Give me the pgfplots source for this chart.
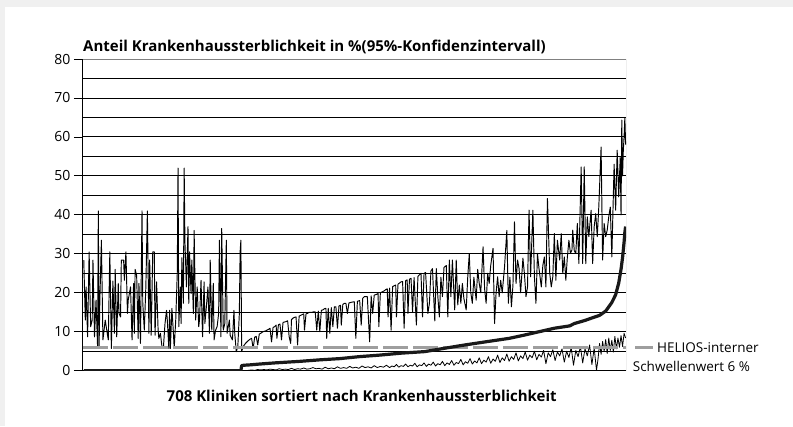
\documentclass[border=0pt]{standalone}
\usepackage{fontspec}
\setmainfont{Open Sans}
\usepackage{pgfplots}
\usepackage{pgfplotstable}
\pgfplotsset{compat=1.18}

% upper bound of the 95% confidence interval
\pgfplotstableread{
i v
1 28.4
3 13.0
4 21.5
6 8.7
8 30.5
10 11.3
12 13.0
13 28.4
15 8.7
17 18.1
19 6.2
20 41.0
21 6.2
22 18.1
24 33.5
26 7.9
29 13.0
31 10.4
33 7.9
35 30.5
37 5.7
39 23.0
41 9.6
42 26.0
44 8.7
46 22.4
47 14.7
49 13.8
50 28.4
53 28.4
54 23.2
56 30.5
58 14.7
59 18.1
62 21.5
64 7.9
66 22.4
67 9.6
68 26.0
70 24.5
72 8.3
73 22.4
75 7.0
77 41.0
78 17.3
80 10.4
82 21.5
84 41.0
86 9.6
87 28.4
89 9.1
91 30.5
93 30.5
94 9.1
96 22.8
98 10.4
99 8.3
101 9.6
103 6.2
105 6.2
107 12.1
109 15.5
110 13.0
112 5.7
113 15.5
114 5.7
116 16.0
118 9.6
119 5.7
121 13.0
123 25.0
124 52.0
125 11.3
127 21.5
128 12.1
129 29.0
131 17.3
132 52.0
133 33.0
135 21.5
137 37.0
138 17.3
139 30.5
141 19.8
142 28.4
144 14.7
145 36.0
147 13.0
149 21.5
151 11.3
152 13.0
154 23.2
156 8.7
158 22.8
159 12.1
161 16.4
163 21.5
165 9.6
166 28.4
168 10.4
170 22.4
171 7.9
173 10.4
175 11.3
177 14.7
178 33.5
180 8.7
181 36.5
183 10.4
185 12.1
187 33.5
188 9.6
191 13.0
192 9.1
195 7.9
197 15.5
198 9.6
200 4.9
202 6.2
204 14.7
205 30.5
206 33.5
207 4.9
209 6.2
212 7.0
215 7.6
218 8.1
220 8.3
222 5.7
224 8.6
226 8.8
228 6.6
230 9.4
232 9.6
234 9.9
236 10.1
238 10.2
240 10.4
242 10.6
244 10.9
246 7.4
248 11.1
250 11.3
252 11.7
253 8.3
255 11.8
257 12.0
259 7.9
261 12.4
263 12.5
265 12.6
267 12.8
269 8.7
271 7.0
272 13.1
274 13.5
276 13.7
278 13.8
280 6.6
282 14.0
284 14.2
286 14.4
288 14.6
289 10.4
291 14.6
293 14.7
295 15.0
297 15.0
299 15.0
301 15.1
303 15.1
305 10.4
307 15.3
309 10.0
311 15.5
313 15.6
315 15.9
317 16.0
318 8.3
320 16.0
322 9.6
324 16.2
326 11.3
328 16.4
330 16.4
332 10.9
334 16.6
336 16.8
337 11.7
339 17.0
341 17.3
343 17.3
345 14.7
347 17.4
349 17.5
351 17.6
354 17.7
356 8.3
358 17.8
361 18.0
363 11.7
365 18.6
367 19.0
369 19.0
371 19.0
374 7.4
376 19.2
378 14.7
380 19.4
383 19.6
385 19.8
386 11.3
388 20.0
390 20.2
393 20.5
395 20.8
397 21.0
398 13.8
400 21.2
402 10.4
404 21.6
406 21.8
408 22.0
409 13.8
411 22.2
413 22.5
415 22.8
417 22.9
419 10.9
421 23.1
423 23.3
424 14.7
426 23.5
428 23.7
430 15.1
432 23.9
435 11.7
437 24.2
439 24.6
441 25.0
443 13.8
445 25.0
447 25.2
450 14.7
452 17.3
454 25.6
456 26.2
459 12.8
461 26.2
463 19.0
465 13.8
467 24.0
469 19.0
471 26.5
474 27.0
476 13.8
478 28.4
480 19.0
482 28.4
485 15.6
487 28.4
489 16.9
491 22.0
493 17.3
495 22.4
497 18.5
500 15.6
502 24.0
504 30.0
506 20.0
508 17.3
510 24.0
513 18.1
515 26.0
517 22.4
519 20.0
522 31.8
524 21.0
526 17.3
528 25.0
530 22.4
532 27.0
535 31.4
537 12.1
539 20.0
541 24.1
543 19.0
545 23.2
547 20.0
550 26.6
553 36.0
555 17.3
557 24.0
559 16.4
561 22.0
563 38.2
565 22.4
567 28.4
569 26.2
571 20.0
574 28.9
576 24.8
578 19.0
580 21.5
582 41.2
584 24.1
587 41.2
589 24.1
591 17.3
593 30.1
595 26.2
598 21.5
600 27.0
602 29.2
604 21.5
606 44.2
608 31.8
609 25.0
611 21.5
613 24.1
615 35.2
617 23.2
619 33.5
622 28.4
624 35.2
626 25.0
628 29.2
630 23.2
632 29.2
634 33.5
636 30.1
638 31.0
639 36.1
641 30.8
643 30.1
645 37.8
647 27.5
650 52.3
652 27.5
654 52.3
656 27.5
658 39.5
660 34.4
663 41.2
665 27.5
667 37.0
669 40.3
671 34.4
673 42.0
676 57.4
678 28.4
680 37.8
682 34.4
684 36.1
686 39.5
688 42.0
690 29.2
693 53.0
695 41.2
697 56.6
699 44.6
701 54.9
702 40.0
703 64.3
704 50.0
705 56.6
706 60.0
707 65.0
708 58.0
}\uptab

% lower bound of the 95% confidence interval
\pgfplotstableread{
i v
1 0
212 0
216 0.1
220 0.2
224 0.1
228 0.3
232 0.2
236 0.3
240 0.2
244 0.4
248 0.3
252 0.2
256 0.5
260 0.3
264 0.4
268 0.3
272 0.6
276 0.3
280 0.5
284 0.4
288 0.7
292 0.4
296 0.5
300 0.8
304 0.5
308 0.6
312 0.4
316 0.9
320 0.5
324 0.7
328 0.5
332 1.0
336 0.6
340 0.8
344 0.6
348 1.1
352 0.7
356 0.9
360 0.6
364 1.2
368 0.8
372 1.0
376 0.7
380 1.3
384 0.8
388 1.1
392 0.9
396 1.4
400 0.8
403 1.2
406 1.0
409 1.6
412 0.9
415 1.3
418 1.1
421 1.7
424 1.0
427 1.4
430 1.2
433 1.9
436 1.0
439 1.5
442 1.3
445 2.0
448 1.1
451 1.7
454 1.4
457 2.2
460 1.2
463 1.8
466 1.5
469 2.4
472 1.3
475 2.0
478 1.6
481 2.6
484 1.4
487 2.1
490 1.8
493 2.9
496 1.5
499 2.3
502 1.9
505 3.1
508 1.7
511 2.5
514 2.0
517 3.3
520 1.8
523 2.7
526 2.2
529 3.6
532 1.9
535 3.0
538 2.4
541 4.0
544 2.1
547 3.3
550 2.6
553 4.3
556 2.4
559 3.6
562 2.9
565 4.6
568 2.5
571 3.8
574 3.1
577 4.8
580 2.7
583 4.0
586 3.3
589 5.0
592 2.8
595 4.2
598 3.5
601 5.2
604 1.8
607 4.6
610 3.6
613 5.4
616 2.6
619 4.8
622 3.8
625 5.6
628 2.2
631 5.0
634 3.4
637 6.0
640 1.4
643 5.2
646 3.6
649 6.2
652 2.0
655 5.6
658 3.8
661 6.6
664 1.6
667 5.8
670 0.1
672 3.0
674 7.0
676 4.2
678 7.5
680 5.0
682 8.0
684 4.4
686 8.4
688 5.2
690 7.8
692 4.8
694 8.8
696 5.6
698 8.4
700 6.0
702 9.0
704 6.2
706 9.6
708 8.4
}\lowtab

% point estimate (hospital mortality, %)
\pgfplotstableread{
i v
1 0
206 0
207 1.3
210 1.4
218 1.5
230 1.7
250 2.0
283 2.4
310 2.8
335 3.1
360 3.6
387 4.0
415 4.5
446 4.9
470 5.7
498 6.6
525 7.4
556 8.3
575 9.1
595 10.0
615 10.9
635 11.5
641 12.1
655 12.9
665 13.6
674 14.2
682 15.3
690 17.5
695 19.5
699 22.5
702 26.0
704 29.0
706 33.0
707 35.5
708 37.0
}\esttab

\begin{document}
\begin{tikzpicture}[x=1pt,y=1pt]
\fill[black!6] (0,0) rectangle (793,426);
\path[use as bounding box] (0,0) rectangle (793,426);
\fill[white] (5,0) rectangle (793,419);
\begin{axis}[
  at={(83pt,55.3pt)}, anchor=south west,
  scale only axis, width=543pt, height=311.7pt,
  xmin=0, xmax=708.5, ymin=0, ymax=80,
  axis x line*=bottom, axis y line*=left,
  axis line style={-, black, line width=1pt},
  ytick={0,10,...,80}, minor ytick={5,15,...,75},
  ymajorgrids, yminorgrids,
  major grid style={black, line width=0.9pt},
  minor grid style={black, line width=1.2pt},
  xtick=\empty,
  tick align=outside, major tick length=9pt, minor tick length=0pt,
  ytick style={black, line width=0.8pt},
  yticklabel style={font=\fontsize{14}{14}\selectfont, /pgf/number format/assume math mode=true},
]
\addplot[black, line width=0.95pt, line join=round] table[x=i, y=v] {\uptab};
\addplot[black, line width=0.8pt, line join=round] table[x=i, y=v] {\lowtab};
\addplot[black!38, line width=2.5pt, dash pattern=on 25pt off 5pt] coordinates {(0,6) (708.5,6)};
\addplot[black!90, line width=3.2pt, line join=round] table[x=i, y=v] {\esttab};
\draw[black!50, line width=1pt] (rel axis cs:0,1) -- (rel axis cs:1,1) -- (rel axis cs:1,0);
\end{axis}
\node[anchor=base west, inner sep=0pt, font=\bfseries\fontsize{15}{16}\selectfont] at (83,374.3) {Anteil Krankenhaussterblichkeit in \%(95\%-Konfidenzintervall)};
\node[anchor=base, inner sep=0pt, font=\bfseries\fontsize{15}{16}\selectfont] at (361.7,24.3) {708 Kliniken sortiert nach Krankenhaussterblichkeit};
\draw[black!38, line width=2.5pt] (635,78.7) -- (653,78.7);
\node[anchor=base west, inner sep=0pt, font=\fontsize{13.5}{15}\selectfont] at (657,73.3) {HELIOS-interner};
\node[anchor=base west, inner sep=0pt, font=\fontsize{13.5}{15}\selectfont] at (632.7,54.3) {Schwellenwert 6 \%};
\end{tikzpicture}
\end{document}
